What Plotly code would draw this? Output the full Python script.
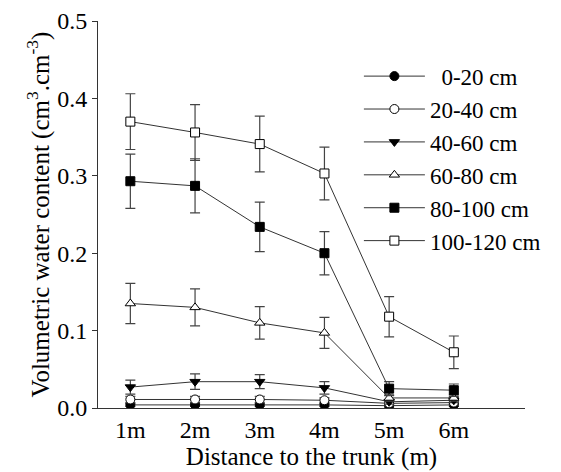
import plotly.graph_objects as go

x_pos = [1, 2, 3, 4, 5, 6]
x_labels = ["1m", "2m", "3m", "4m", "5m", "6m"]

series_names = ["0-20 cm", "20-40 cm", "40-60 cm", "60-80 cm", "80-100 cm", "100-120 cm"]

v_0_20 = [0.004, 0.004, 0.004, 0.004, 0.003, 0.004]
e_0_20 = [0.002, 0.002, 0.002, 0.002, 0.002, 0.002]
v_20_40 = [0.011, 0.011, 0.011, 0.010, 0.006, 0.007]
e_20_40 = [0.004, 0.004, 0.004, 0.003, 0.003, 0.003]
v_40_60 = [0.027, 0.034, 0.034, 0.026, 0.008, 0.010]
e_40_60 = [0.009, 0.010, 0.009, 0.008, 0.003, 0.003]
v_60_80 = [0.135, 0.130, 0.110, 0.097, 0.013, 0.013]
e_60_80 = [0.026, 0.024, 0.021, 0.020, 0.004, 0.004]
v_80_100 = [0.293, 0.287, 0.234, 0.200, 0.025, 0.023]
e_80_100 = [0.035, 0.035, 0.032, 0.028, 0.009, 0.008]
v_100_120 = [0.370, 0.356, 0.341, 0.303, 0.118, 0.072]
e_100_120 = [0.036, 0.036, 0.036, 0.034, 0.026, 0.021]

values = [v_0_20, v_20_40, v_40_60, v_60_80, v_80_100, v_100_120]
errors = [e_0_20, e_20_40, e_40_60, e_60_80, e_80_100, e_100_120]
symbols = ["circle", "circle-open", "triangle-down", "triangle-up-open", "square", "square-open"]

fig = go.Figure()
for i, (name, v, e, sym) in enumerate(zip(series_names, values, errors, symbols)):
    is_open = sym.endswith("-open")
    base = sym.replace("-open", "")
    fig.add_trace(go.Scatter(
        x=x_pos, y=v, name=("\u2002" + name if i == 0 else name),
        mode="lines+markers",
        line=dict(color="#333333", width=1),
        marker=dict(symbol=base, size=9,
                    color="white" if is_open else "black",
                    line=dict(color="black", width=1)),
        error_y=dict(type="data", array=e, visible=True, color="#444444",
                     thickness=1.2, width=5),
    ))

font_family = "Liberation Serif"
fig.update_layout(
    width=561, height=472,
    margin=dict(l=90, r=44, t=13, b=72, autoexpand=False),
    paper_bgcolor="white", plot_bgcolor="white",
    font=dict(family=font_family, size=24, color="black"),
    showlegend=True,
    legend=dict(x=0.611, y=0.913, xanchor="left", yanchor="top",
                font=dict(family=font_family, size=23, color="black"),
                bgcolor="rgba(0,0,0,0)", itemwidth=61),
    xaxis=dict(range=[0.5, 7.1], tickmode="array", tickvals=x_pos, ticktext=x_labels,
               showline=True, linecolor="#333333", linewidth=1, ticks="",
               showgrid=False, zeroline=False, automargin=False,
               ticklabeloverflow="allow",
               title=dict(text="Distance to the trunk (m)",
                          font=dict(family=font_family, size=25), standoff=4),
               tickfont=dict(family=font_family, size=24)),
    yaxis=dict(range=[0, 0.5], tickvals=[0, 0.1, 0.2, 0.3, 0.4, 0.5],
               ticktext=["0.0", "0.1", "0.2", "0.3", "0.4", "0.5"],
               showline=True, linecolor="#333333", linewidth=1, ticks="outside",
               ticklen=5, tickcolor="#333333",
               showgrid=False, zeroline=False, automargin=False,
               ticklabeloverflow="allow",
               title=dict(text="Volumetric water content (cm<sup>3</sup>.cm<sup>-3</sup>)",
                          font=dict(family=font_family, size=25), standoff=0),
               tickfont=dict(family=font_family, size=24)),
)

fig.write_html("out.html")
